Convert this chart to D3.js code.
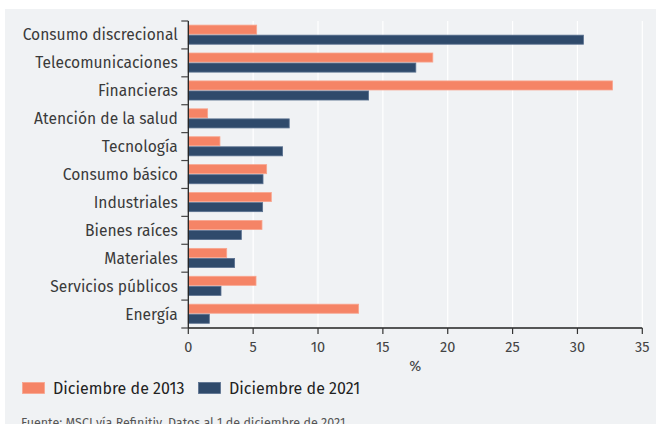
<!DOCTYPE html>
<html><head><meta charset="utf-8">
<script src="https://cdn.jsdelivr.net/npm/d3@7"></script>
<style>body{margin:0;background:#fff;}svg{display:block;}</style>
</head><body>
<svg id="c" width="660" height="424"></svg>
<script>
const categories = ["Consumo discrecional","Telecomunicaciones","Financieras","Atención de la salud","Tecnología","Consumo básico","Industriales","Bienes raíces","Materiales","Servicios públicos","Energía"];
const dec2013 = [5.27,18.85,32.7,1.49,2.44,6.04,6.4,5.68,2.96,5.22,13.13];
const dec2021 = [30.46,17.54,13.9,7.78,7.27,5.76,5.73,4.09,3.57,2.52,1.62];
const seriesNames = ["Diciembre de 2013","Diciembre de 2021"];
const xTicks = [0,5,10,15,20,25,30,35];
const source = "Fuente: MSCI vía Refinitiv. Datos al 1 de diciembre de 2021.";

const colors = ["#f58466","#2f4a6b"];
const strokes = ["#f8a58e","#5a7190"];
const font = "'Fira Sans','Open Sans','Noto Sans',sans-serif";
const svg = d3.select("#c");
svg.append("rect").attr("x",5).attr("y",9).attr("width",651).attr("height",415).attr("fill","#f0f2f4");

const x = d3.scaleLinear().domain([0,35]).range([188.3,642.3]);
const y = d3.scaleBand().domain(categories).range([21,328]).paddingInner(0).paddingOuter(0);
const sub = d3.scaleBand().domain([0,1]).range([3.6, y.bandwidth()-4.2]);

const g = svg.append("g");
g.selectAll(".grid").data(xTicks.slice(1)).join("line")
  .attr("x1",d=>x(d)).attr("x2",d=>x(d)).attr("y1",21).attr("y2",328)
  .attr("stroke","#ffffff").attr("stroke-width",1.2);

const series = [dec2013, dec2021];
series.forEach((vals,si)=>{
  g.selectAll(".b"+si).data(vals).join("rect")
    .attr("x",x(0)).attr("y",(d,i)=>y(categories[i])+sub(si)+0.5)
    .attr("width",d=>x(d)-x(0)).attr("height",sub.bandwidth()-1)
    .attr("fill",colors[si]).attr("stroke",strokes[si]).attr("stroke-width",0.8);
});

const ya = svg.append("g").attr("transform",`translate(${x(0)},0)`);
ya.append("line").attr("x1",0).attr("x2",0).attr("y1",21).attr("y2",328).attr("stroke","#222").attr("stroke-width",1.3);
const yTickPos = categories.map(c=>y(c)).concat([y.range()[1]]);
ya.selectAll(".yt").data(yTickPos).join("line")
  .attr("x1",-7).attr("x2",0).attr("y1",d=>d).attr("y2",d=>d).attr("stroke","#444").attr("stroke-width",1.2);
ya.selectAll(".yl").data(categories).join("text")
  .attr("x",-10.5).attr("y",d=>y(d)+y.bandwidth()/2).attr("dy","0.35em")
  .attr("text-anchor","end").attr("font-family",font).attr("font-size",15.6).attr("fill","#3a3a3a")
  .text(d=>d);

const xa = svg.append("g").attr("transform","translate(0,328)");
xa.append("line").attr("x1",x(0)).attr("x2",x(35)).attr("y1",0).attr("y2",0).attr("stroke","#222").attr("stroke-width",1.3);
xa.selectAll(".xt").data(xTicks).join("line")
  .attr("x1",d=>x(d)).attr("x2",d=>x(d)).attr("y1",0).attr("y2",6).attr("stroke","#333").attr("stroke-width",1.2);
xa.selectAll(".xl").data(xTicks).join("text")
  .attr("x",d=>x(d)).attr("y",23.5).attr("text-anchor","middle")
  .attr("font-family",font).attr("font-size",14.5).attr("fill","#444").text(d=>d);
svg.append("text").attr("x",(x(0)+x(35))/2).attr("y",371).attr("text-anchor","middle")
  .attr("font-family",font).attr("font-size",14.5).attr("fill","#444").text("%");

const legX = [22,198];
seriesNames.forEach((n,i)=>{
  svg.append("rect").attr("x",legX[i]+0.5).attr("y",382.5).attr("width",22).attr("height",11)
    .attr("fill",colors[i]).attr("stroke",strokes[i]).attr("stroke-width",0.8);
  svg.append("text").attr("x",legX[i]+31).attr("y",393.5).attr("font-family",font).attr("font-size",16)
    .attr("fill","#222").text(n);
});
svg.append("text").attr("x",21).attr("y",427).attr("font-family",font).attr("font-size",12.5)
  .attr("fill","#555").text(source);
</script>
</body></html>
